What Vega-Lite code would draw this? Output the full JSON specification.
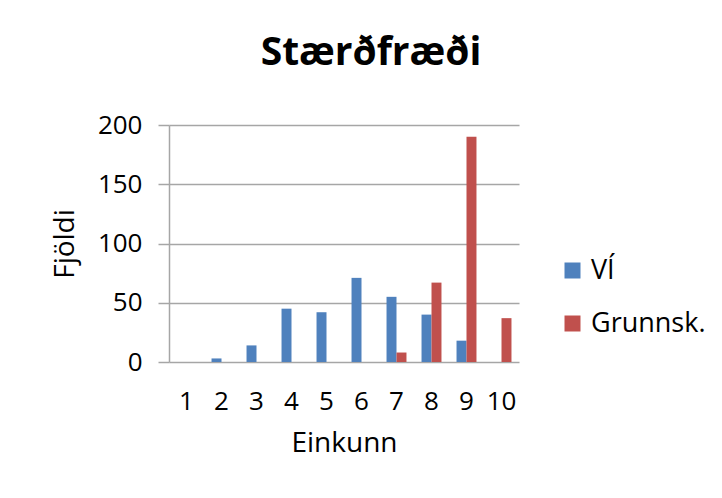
{
  "$schema": "https://vega.github.io/schema/vega-lite/v6.json",
  "autosize": "none",
  "width": 350,
  "height": 237,
  "padding": {"left": 169, "top": 125, "right": 203, "bottom": 136},
  "background": "white",
  "title": {
    "text": "Stærðfræði",
    "fontSize": 39,
    "fontWeight": "bold",
    "font": "Open Sans",
    "color": "#000000",
    "anchor": "middle",
    "dx": 27,
    "offset": 39
  },
  "data": {
    "values": [
      {"Einkunn": "1", "Hópur": "VÍ", "Fjöldi": 0},
      {"Einkunn": "2", "Hópur": "VÍ", "Fjöldi": 3},
      {"Einkunn": "3", "Hópur": "VÍ", "Fjöldi": 14},
      {"Einkunn": "4", "Hópur": "VÍ", "Fjöldi": 45},
      {"Einkunn": "5", "Hópur": "VÍ", "Fjöldi": 42},
      {"Einkunn": "6", "Hópur": "VÍ", "Fjöldi": 71},
      {"Einkunn": "7", "Hópur": "VÍ", "Fjöldi": 55},
      {"Einkunn": "8", "Hópur": "VÍ", "Fjöldi": 40},
      {"Einkunn": "9", "Hópur": "VÍ", "Fjöldi": 18},
      {"Einkunn": "10", "Hópur": "VÍ", "Fjöldi": 0},
      {"Einkunn": "1", "Hópur": "Grunnsk.", "Fjöldi": 0},
      {"Einkunn": "2", "Hópur": "Grunnsk.", "Fjöldi": 0},
      {"Einkunn": "3", "Hópur": "Grunnsk.", "Fjöldi": 0},
      {"Einkunn": "4", "Hópur": "Grunnsk.", "Fjöldi": 0},
      {"Einkunn": "5", "Hópur": "Grunnsk.", "Fjöldi": 0},
      {"Einkunn": "6", "Hópur": "Grunnsk.", "Fjöldi": 0},
      {"Einkunn": "7", "Hópur": "Grunnsk.", "Fjöldi": 8},
      {"Einkunn": "8", "Hópur": "Grunnsk.", "Fjöldi": 67},
      {"Einkunn": "9", "Hópur": "Grunnsk.", "Fjöldi": 190},
      {"Einkunn": "10", "Hópur": "Grunnsk.", "Fjöldi": 37}
    ]
  },
  "mark": {"type": "bar"},
  "encoding": {
    "x": {
      "field": "Einkunn",
      "type": "ordinal",
      "sort": ["1", "2", "3", "4", "5", "6", "7", "8", "9", "10"],
      "scale": {"paddingInner": 0.43, "paddingOuter": 0.215},
      "axis": {
        "title": "Einkunn",
        "titleFont": "Open Sans",
        "titleFontSize": 28,
        "titleFontWeight": "normal",
        "titleColor": "#000000",
        "titlePadding": 15,
        "labelFont": "Open Sans",
        "labelFontSize": 26,
        "labelColor": "#000000",
        "labelAngle": 0,
        "labelPadding": 26,
        "ticks": false,
        "domain": false
      }
    },
    "xOffset": {
      "field": "Hópur",
      "type": "nominal",
      "sort": ["VÍ", "Grunnsk."]
    },
    "y": {
      "field": "Fjöldi",
      "type": "quantitative",
      "scale": {"domain": [0, 200]},
      "axis": {
        "values": [0, 50, 100, 150, 200],
        "title": "Fjöldi",
        "titleFont": "Open Sans",
        "titleFontSize": 28,
        "titleFontWeight": "normal",
        "titleColor": "#000000",
        "titlePadding": 18,
        "labelFont": "Open Sans",
        "labelFontSize": 26,
        "labelColor": "#000000",
        "labelPadding": 16,
        "tickSize": 11,
        "tickColor": "#a6a6a6",
        "tickWidth": 1.5,
        "domainColor": "#a6a6a6",
        "domainWidth": 1.5,
        "gridColor": "#a6a6a6",
        "gridWidth": 1.5
      }
    },
    "color": {
      "field": "Hópur",
      "type": "nominal",
      "sort": ["VÍ", "Grunnsk."],
      "scale": {"domain": ["VÍ", "Grunnsk."], "range": ["#4f81bd", "#c0504d"]},
      "legend": {
        "title": null,
        "orient": "none",
        "legendX": 390,
        "legendY": 132,
        "symbolType": "square",
        "symbolSize": 256,
        "symbolStrokeWidth": 0,
        "labelFont": "Open Sans",
        "labelFontSize": 27,
        "labelColor": "#000000",
        "rowPadding": 25,
        "labelOffset": 5
      }
    }
  },
  "config": {
    "view": {"stroke": null}
  }
}
